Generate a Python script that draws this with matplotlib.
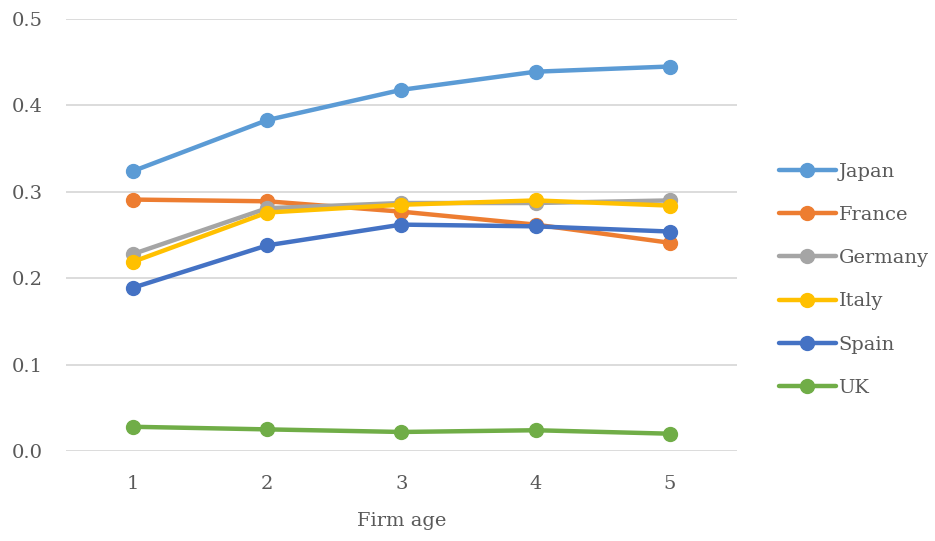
import matplotlib
matplotlib.use("Agg")
import matplotlib.pyplot as plt

firm_age = [1, 2, 3, 4, 5]
japan = [0.324, 0.383, 0.418, 0.439, 0.445]
france = [0.291, 0.289, 0.277, 0.262, 0.241]
germany = [0.228, 0.281, 0.287, 0.287, 0.290]
italy = [0.219, 0.276, 0.285, 0.290, 0.284]
spain = [0.189, 0.238, 0.262, 0.260, 0.254]
uk = [0.028, 0.025, 0.022, 0.024, 0.020]

series = [
    ("Japan", japan, "#5B9BD5"),
    ("France", france, "#ED7D31"),
    ("Germany", germany, "#A5A5A5"),
    ("Italy", italy, "#FFC000"),
    ("Spain", spain, "#4472C4"),
    ("UK", uk, "#70AD47"),
]

plt.rcParams["font.family"] = ["DejaVu Serif"]
text_color = "#595959"
fs = 14

fig = plt.figure(figsize=(9.35, 5.41), dpi=100)
ax = fig.add_axes([0.0706, 0.1664, 0.7175, 0.7985])

handles = []
for name, vals, color in series:
    ln, = ax.plot(firm_age, vals, color=color, lw=3.2, marker="o", ms=10,
                  solid_capstyle="round", label=name, zorder=3)
    handles.append(ln)

ax.set_xlim(0.5, 5.5)
ax.set_ylim(0, 0.5)
ax.set_yticks([0, 0.1, 0.2, 0.3, 0.4, 0.5])
ax.set_yticklabels(["0.0", "0.1", "0.2", "0.3", "0.4", "0.5"])
ax.set_xticks(firm_age)
ax.grid(axis="y", color="#D9D9D9", lw=1.3, zorder=0)
for s in ax.spines.values():
    s.set_visible(False)
ax.tick_params(length=0, labelsize=fs, colors=text_color)
ax.tick_params(axis="x", pad=17)
ax.tick_params(axis="y", pad=17)
ax.set_xlabel("Firm age", fontsize=fs, color=text_color, labelpad=14)

fig.legend(handles=handles, loc="upper left", bbox_to_anchor=(0.825, 0.714),
           frameon=False, fontsize=fs, labelcolor=text_color,
           handlelength=2.9, handletextpad=0.15, labelspacing=1.3,
           borderaxespad=0)

fig.savefig("out.png", dpi=100)
